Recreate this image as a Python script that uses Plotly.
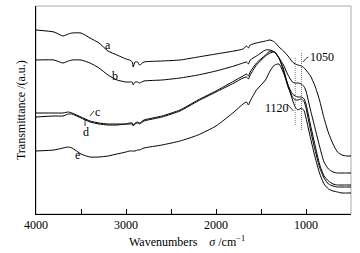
import plotly.graph_objects as go

# Wavenumbers (cm^-1)
wavenumber = [4000, 3800, 3700, 3640, 3600, 3500, 3400, 3300, 3200, 3100,
              3000, 2960, 2930, 2920, 2900, 2870, 2850, 2800, 2600, 2400,
              2200, 2000, 1800, 1700, 1660, 1640, 1620, 1550, 1450, 1400,
              1350, 1300, 1250, 1200, 1150, 1120, 1090, 1050, 1020, 1000,
              950, 900, 850, 800, 750, 700, 650, 600, 550, 500]

# Transmittance (a.u.), curves a-e
trans_a = [184, 182, 178, 180, 181, 181, 176, 171, 163, 159,
           155, 154, 152, 147, 152, 152, 149, 152, 153, 154,
           157, 160, 163, 165, 168, 166, 169, 171, 173, 174,
           172, 167, 163, 158, 152, 150, 149, 148, 146, 144,
           138, 128, 114, 96, 81, 70, 62, 59, 58, 58]
trans_b = [154, 154, 151, 153, 154, 154, 151, 146, 139, 134,
           132, 132, 132, 129, 132, 132, 131, 133, 134, 136,
           139, 143, 148, 151, 152, 150, 154, 158, 164, 164,
           162, 156, 149, 139, 132, 131, 131, 130, 127, 123,
           104, 86, 68, 52, 45, 42, 41, 41, 41, 41]
trans_c = [101, 101, 101, 102, 101, 97, 93, 91, 90, 90,
           90, 91, 91, 89, 91, 92, 91, 94, 98, 104,
           114, 123, 133, 138, 140, 138, 142, 151, 159, 163,
           162, 156, 145, 129, 120, 118, 117, 117, 115, 110,
           89, 69, 50, 38, 33, 30, 29, 29, 29, 29]
trans_d = [97, 98, 98, 100, 100, 96, 92, 90, 89, 89,
           90, 90, 90, 88, 90, 91, 90, 93, 97, 103,
           113, 122, 131, 136, 137, 135, 139, 149, 158, 161,
           162, 156, 143, 127, 117, 114, 114, 115, 112, 106,
           84, 64, 47, 36, 30, 28, 27, 27, 27, 27]
trans_e = [63, 64, 66, 67, 66, 60, 57, 57, 58, 60,
           62, 63, 63, 63, 63, 64, 64, 66, 69, 73,
           79, 88, 102, 110, 112, 109, 113, 124, 134, 143,
           149, 150, 141, 129, 114, 107, 104, 106, 103, 96,
           76, 57, 41, 30, 25, 23, 22, 21, 21, 21]

curve_names = ["a", "b", "c", "d", "e"]
# label positions (wavenumber, transmittance)
label_wn = [3200, 3122, 3322, 3444, 3544]
label_tr = [169, 138, 102, 82, 59]

marker_wn = [1120, 1050]
marker_text = ["1120", "1050"]

tick_major = [4000, 3000, 2000, 1000]
tick_minor = [3500, 2500, 1500]

FONT = "Liberation Serif, Times New Roman, serif"

fig = go.Figure()
for name, ys in zip(curve_names, [trans_a, trans_b, trans_c, trans_d, trans_e]):
    fig.add_trace(go.Scatter(x=wavenumber, y=ys, mode="lines", name=name,
                             line=dict(color="black", width=1, shape="spline", smoothing=0.5),
                             showlegend=False, hoverinfo="skip"))

# dotted marker lines
fig.add_trace(go.Scatter(x=[marker_wn[0], marker_wn[0]], y=[89, 156], mode="lines",
                         line=dict(color="#777", width=1, dash="1px,1px"), showlegend=False))
fig.add_trace(go.Scatter(x=[marker_wn[1], marker_wn[1]], y=[84, 161], mode="lines",
                         line=dict(color="#777", width=1, dash="1px,1px"), showlegend=False))

# leader ticks for labels c, d and numbers
fig.add_trace(go.Scatter(x=[3400, 3356], y=[98, 103], mode="lines",
                         line=dict(color="black", width=0.8), showlegend=False))
fig.add_trace(go.Scatter(x=[3455, 3455], y=[88, 95], mode="lines",
                         line=dict(color="black", width=0.8), showlegend=False))
fig.add_trace(go.Scatter(x=[1030, 1005, 975], y=[152, 155, 157], mode="lines",
                         line=dict(color="black", width=0.8, shape="spline"), showlegend=False))
fig.add_trace(go.Scatter(x=[1210, 1170, 1140], y=[110, 106, 103], mode="lines",
                         line=dict(color="black", width=0.8, shape="spline"), showlegend=False))

for name, xw, yt in zip(curve_names, label_wn, label_tr):
    fig.add_annotation(x=xw, y=yt, text=name, showarrow=False,
                       font=dict(family=FONT, size=12, color="black"))

fig.add_annotation(x=822, y=157, text=marker_text[1], showarrow=False,
                   font=dict(family=FONT, size=12, color="black"))
fig.add_annotation(x=1322, y=106, text=marker_text[0], showarrow=False,
                   font=dict(family=FONT, size=12, color="black"))

fig.add_annotation(xref="paper", yref="paper", x=-0.076, y=0.5,
                   text="Transmittance /(a.u.)", textangle=-90, showarrow=False,
                   font=dict(family=FONT, size=12, color="black"))
fig.add_annotation(xref="paper", yref="paper", x=0.48, y=-0.18,
                   text="Wavenumbers\u00a0\u00a0\u00a0\u00a0<i>σ</i> /cm<sup>−1</sup>",
                   showarrow=False, font=dict(family=FONT, size=12, color="black"))

# frame top/right in gray
fig.add_shape(type="rect", xref="paper", yref="paper", x0=0, y0=0, x1=1, y1=1,
              line=dict(color="#aaaaaa", width=1), layer="below")

fig.update_layout(
    width=360, height=253,
    margin=dict(l=36, r=9, t=6, b=39),
    plot_bgcolor="white", paper_bgcolor="white",
    font=dict(family=FONT, size=12, color="black"),
    xaxis=dict(range=[4000, 500], tickvals=tick_major,
               ticktext=[str(v) for v in tick_major],
               ticks="inside", ticklen=5, tickcolor="black",
               showline=True, linecolor="black", linewidth=1,
               showgrid=False, zeroline=False,
               minor=dict(tickvals=tick_minor, ticks="inside", ticklen=5, tickcolor="black"),
               tickfont=dict(family=FONT, size=12)),
    yaxis=dict(range=[0, 208], showticklabels=False, ticks="",
               showline=True, linecolor="black", linewidth=1,
               showgrid=False, zeroline=False),
)

fig.write_html("out.html", config={"displayModeBar": False},
               post_script="document.body.style.margin='0';")
